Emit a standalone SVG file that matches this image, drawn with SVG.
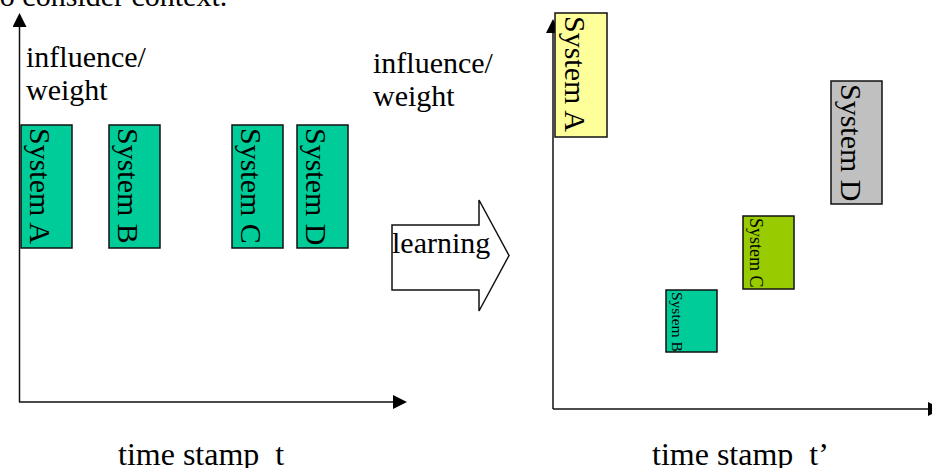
<svg xmlns="http://www.w3.org/2000/svg" width="932" height="468" viewBox="0 0 932 468">
<style>
text{font-family:"Liberation Serif","Times New Roman",serif;fill:#000}
.lbl{font-size:30px}
.big{font-size:32px}
.axis{stroke:#111;stroke-width:1.5;fill:none}
.box{stroke:#111;stroke-width:1.5}
.teal{fill:#00CC99}
.yellow{fill:#FFFF99}
.grey{fill:#C0C0C0}
.lime{fill:#99CC00}
</style>
<defs>
<marker id="ah" viewBox="0 0 14 14" refX="0" refY="7" markerWidth="14" markerHeight="14" markerUnits="userSpaceOnUse" orient="auto">
<path d="M0,0 L14,7 L0,14 z" fill="#000"/>
</marker>
</defs>
<rect width="932" height="468" fill="#fff"/>
<text class="lbl" x="-8.5" y="6">to consider context.</text>
<g id="connectors">
<line class="axis" x1="19.5" y1="402" x2="19.5" y2="27" marker-end="url(#ah)"/>
<line class="axis" x1="19" y1="402" x2="393" y2="402" marker-end="url(#ah)"/>
<line class="axis" x1="553" y1="409" x2="553" y2="33" marker-end="url(#ah)"/>
<line class="axis" x1="553" y1="409" x2="928" y2="409" marker-end="url(#ah)"/>
</g>
<g id="label-left-y">
<text class="lbl" x="26" y="67">influence/</text>
<text class="lbl" x="26" y="100">weight</text>
</g>
<g id="label-right-y">
<text class="lbl" x="373" y="73">influence/</text>
<text class="lbl" x="373" y="106">weight</text>
</g>
<g id="label-left-x"><text class="big" x="118" y="465" xml:space="preserve">time stamp  t</text></g>
<g id="label-right-x"><text class="big" x="652" y="465" xml:space="preserve">time stamp  t’</text></g>
<g id="left-system-a">
<rect class="box teal" x="21" y="125" width="51" height="123"/>
<text class="lbl" transform="translate(30,128) rotate(90)">System A</text>
</g>
<g id="left-system-b">
<rect class="box teal" x="109" y="125" width="51" height="123"/>
<text class="lbl" transform="translate(118,128) rotate(90)">System B</text>
</g>
<g id="left-system-c">
<rect class="box teal" x="232" y="125" width="51" height="123"/>
<text class="lbl" transform="translate(241,128) rotate(90)">System C</text>
</g>
<g id="left-system-d">
<rect class="box teal" x="297" y="125" width="51" height="123"/>
<text class="lbl" transform="translate(306,128) rotate(90)">System D</text>
</g>
<g id="learning">
<polygon points="392,225 479,225 479,200 509,255.5 479,311 479,290 392,290" fill="#fff" stroke="#111" stroke-width="1.5"/>
<text class="lbl" x="392" y="253">learning</text>
</g>
<g id="right-system-a">
<rect class="box yellow" x="555" y="13" width="52" height="124"/>
<text class="lbl" transform="translate(565,16) rotate(90)">System A</text>
</g>
<g id="right-system-d">
<rect class="box grey" x="831" y="81" width="51" height="123"/>
<text class="lbl" transform="translate(841,84) rotate(90)">System D</text>
</g>
<g id="right-system-c">
<rect class="box lime" x="743" y="216" width="51" height="73"/>
<text transform="translate(750,218) rotate(90)" font-size="18">System C</text>
</g>
<g id="right-system-b">
<rect class="box teal" x="666" y="290" width="51" height="62"/>
<text transform="translate(672,292) rotate(90)" font-size="15.5">System B</text>
</g>
</svg>
